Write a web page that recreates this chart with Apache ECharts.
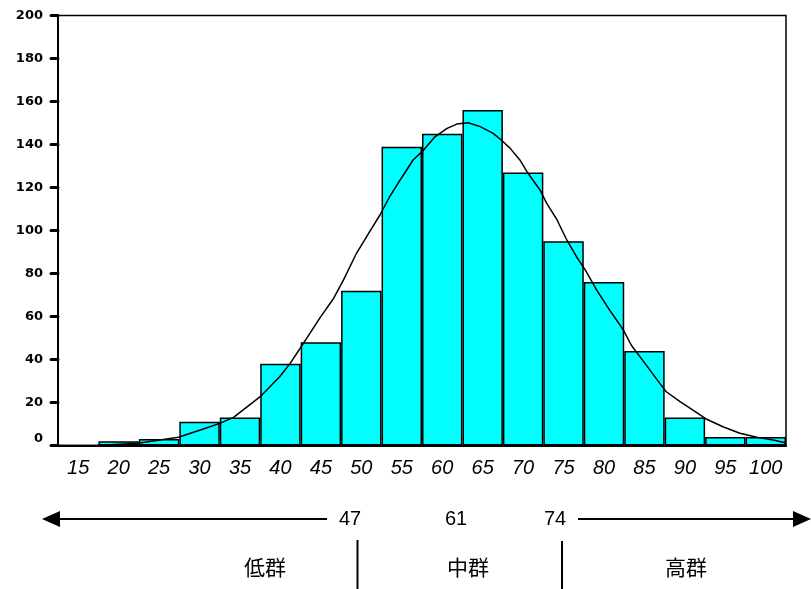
<!DOCTYPE html>
<html>
<head>
<meta charset="utf-8">
<title>得点分布</title>
<script src="https://cdn.jsdelivr.net/npm/echarts@6/dist/echarts.min.js"></script>
<style>
  html, body { margin: 0; padding: 0; background: #fff; }
  #chart { width: 811px; height: 589px; }
</style>
</head>
<body>
<div id="chart"></div>
<script>
// Score classes (bin centres) and the number of students in each
const scoreBins = ['15', '20', '25', '30', '35', '40', '45', '50', '55', '60',
                   '65', '70', '75', '80', '85', '90', '95', '100'];
const counts = [0, 2, 3, 11, 13, 38, 48, 72, 139, 145, 156, 127, 95, 76, 44, 13, 4, 4];

// Fitted normal curve, sampled as [score, frequency]
const curveX = [17.3, 22.4, 27.4, 30.1, 32.5, 34.2, 37.5, 39.9, 41.2, 42.4, 43.9, 44.9,
                46.5, 47.8, 49.4, 50.9, 52.3, 53.5, 54.8, 56.4, 57.7, 59.1, 60.6, 61.8,
                63.2, 64.7, 66.3, 67.3, 68.4, 69.6, 70.6, 72.1, 72.9, 74.2, 75.4, 76.6,
                77.7, 79.1, 80.7, 82.4, 83.4, 84.9, 86.9, 87.7, 89.4, 91.0, 92.7, 94.7,
                96.8, 98.9, 100.9, 102.4];
const curveY = [0, 1.0, 3.8, 7.2, 10.3, 13.1, 22.7, 32.0, 38.2, 45.0, 53.7, 59.5,
                68.0, 77.0, 89.4, 98.7, 107.2, 115.7, 123.5, 132.8, 137.4, 143.6, 147.5, 149.5,
                150.1, 148.3, 145.2, 142.1, 138.2, 132.8, 126.6, 118.8, 112.7, 104.9, 95.6, 87.8,
                81.6, 72.3, 63.0, 53.7, 46.5, 39.0, 28.9, 25.0, 20.4, 16.5, 12.2, 8.7,
                5.7, 3.8, 2.6, 1.3];

// Frequency axis
const yMin = 0, yMax = 200, yStep = 20;

// Group boundaries and group names shown under the histogram
const cutScores = ['47', '61', '74'];
const groupNames = ['低群', '中群', '高群'];

const curveData = curveX.map((x, i) => [x, curveY[i]]);

const chart = echarts.init(document.getElementById('chart'), null, { renderer: 'canvas' });

const arrowY = 519;
const graphics = [
  // left arrow
  { type: 'line', shape: { x1: 58, y1: arrowY, x2: 327, y2: arrowY }, style: { stroke: '#000', lineWidth: 2 } },
  { type: 'polygon', shape: { points: [[42, arrowY], [60, arrowY - 8], [60, arrowY + 8]] }, style: { fill: '#000' } },
  // right arrow
  { type: 'line', shape: { x1: 578, y1: arrowY, x2: 795, y2: arrowY }, style: { stroke: '#000', lineWidth: 2 } },
  { type: 'polygon', shape: { points: [[811, arrowY], [793, arrowY - 8], [793, arrowY + 8]] }, style: { fill: '#000' } },
  // group separators
  { type: 'line', shape: { x1: 357.5, y1: 540, x2: 357.5, y2: 589 }, style: { stroke: '#000', lineWidth: 2 } },
  { type: 'line', shape: { x1: 562, y1: 541, x2: 562, y2: 589 }, style: { stroke: '#000', lineWidth: 2 } }
];

const cutPos = [350, 456, 555];
cutScores.forEach((t, i) => {
  graphics.push({
    type: 'text', x: cutPos[i], y: arrowY,
    style: { text: t, fill: '#000', font: '20px "Liberation Sans", Arial, sans-serif',
             align: 'center', verticalAlign: 'middle' }
  });
});

const groupPos = [265, 468, 686];
groupNames.forEach((t, i) => {
  graphics.push({
    type: 'text', x: groupPos[i], y: 567,
    style: { text: t, fill: '#000', font: '21px "Noto Sans CJK JP", sans-serif',
             align: 'center', verticalAlign: 'middle' }
  });
});

chart.setOption({
  animation: false,
  backgroundColor: '#fff',
  grid: {
    left: 58, right: 25, top: 15.5, bottom: 143.5,
    show: true, borderColor: '#000', borderWidth: 1.5, backgroundColor: 'transparent'
  },
  xAxis: [
    {
      type: 'category',
      data: scoreBins,
      boundaryGap: true,
      axisLine: { lineStyle: { color: '#000', width: 2 } },
      axisTick: { show: false },
      axisLabel: {
        color: '#000', fontSize: 20, fontStyle: 'italic',
        fontFamily: '"Liberation Sans", Arial, sans-serif',
        margin: 13, interval: 0
      },
      splitLine: { show: false }
    },
    {
      type: 'value',
      min: 12.5, max: 102.5,
      show: false,
      splitLine: { show: false }
    }
  ],
  yAxis: {
    type: 'value',
    min: yMin, max: yMax, interval: yStep,
    axisLine: { show: true, lineStyle: { color: '#000', width: 2 } },
    axisTick: { show: true, length: 7, lineStyle: { color: '#000', width: 3, cap: 'round' } },
    axisLabel: {
      color: '#000', fontSize: 13, fontWeight: 'bold', fontFamily: '"DejaVu Sans", sans-serif',
      margin: 15, verticalAlignMinLabel: 'bottom'
    },
    splitLine: { show: false }
  },
  series: [
    {
      type: 'bar',
      data: counts,
      xAxisIndex: 0,
      barCategoryGap: '0%',
      itemStyle: { color: '#00FFFF', borderColor: '#000', borderWidth: 1.5 },
      z: 2
    },
    {
      type: 'line',
      data: curveData,
      xAxisIndex: 1,
      showSymbol: false,
      smooth: false,
      lineStyle: { color: '#000', width: 1.5 },
      z: 3
    }
  ],
  graphic: graphics
});
</script>
</body>
</html>
